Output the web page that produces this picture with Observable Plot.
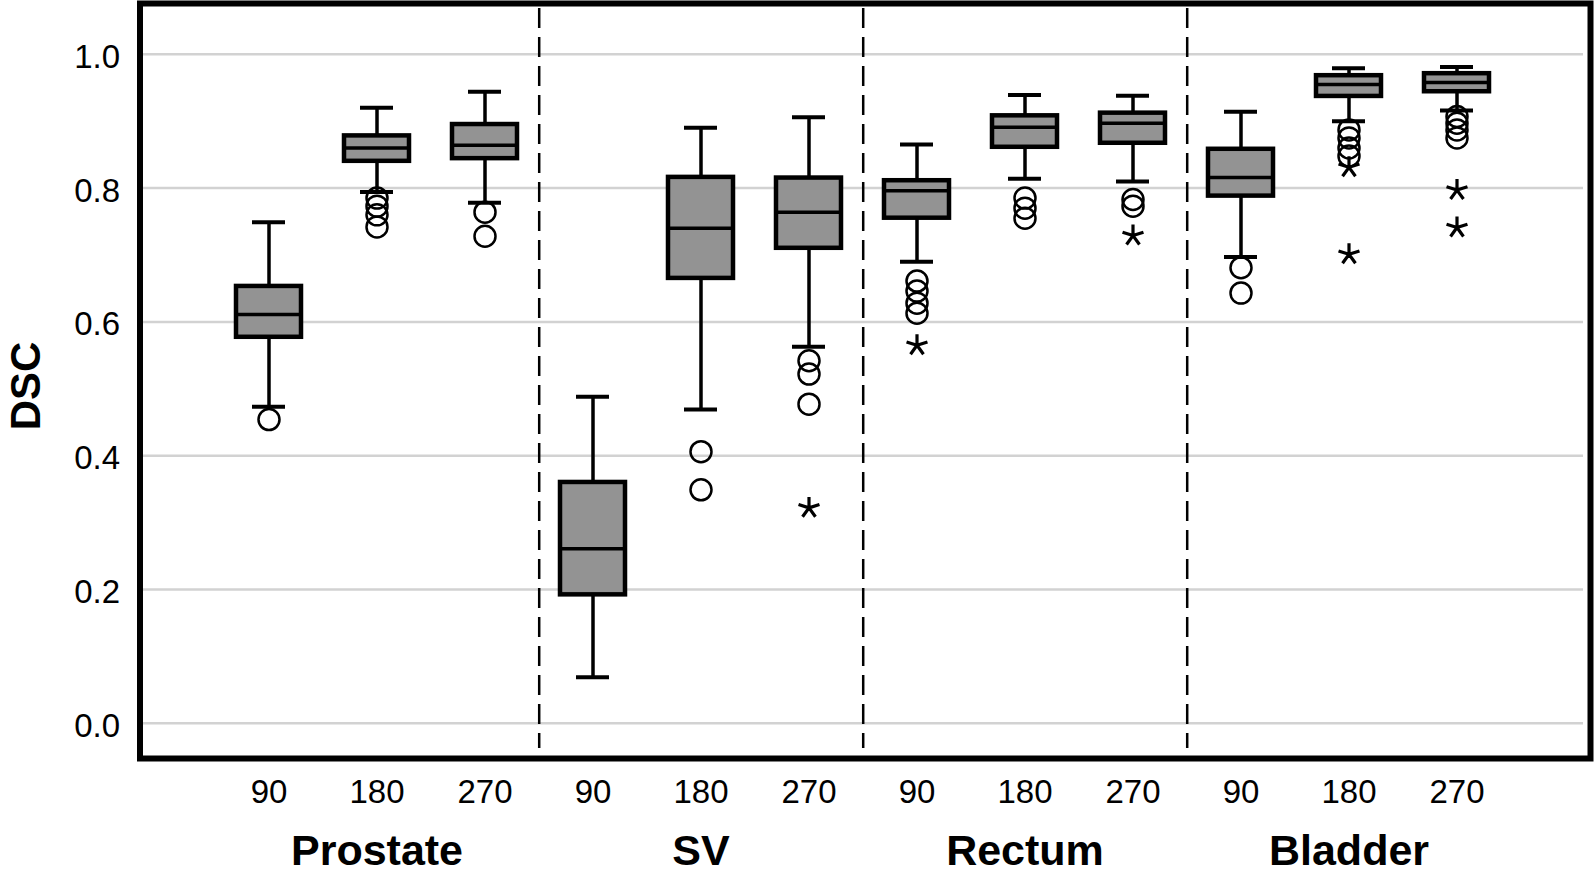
<!DOCTYPE html>
<html>
<head>
<meta charset="utf-8">
<script src="https://cdn.jsdelivr.net/npm/d3@7"></script>
<script src="https://cdn.jsdelivr.net/npm/@observablehq/plot@0.6"></script>
<style>
  html, body { margin: 0; padding: 0; background: #fff; }
  svg { display: block; }
</style>
</head>
<body>
<div id="chart"></div>
<script>
// ---- data ----
const organs = ["Prostate", "SV", "Rectum", "Bladder"];
const angles = ["90", "180", "270"];
const yTicks = [0, 0.2, 0.4, 0.6, 0.8, 1.0];

// order: Prostate 90/180/270, SV 90/180/270, Rectum 90/180/270, Bladder 90/180/270
const whiskerLow  = [0.473, 0.794, 0.778, 0.069, 0.469, 0.563, 0.690, 0.814, 0.810, 0.697, 0.900, 0.916];
const quartile1   = [0.577, 0.840, 0.844, 0.192, 0.665, 0.710, 0.755, 0.861, 0.867, 0.788, 0.937, 0.944];
const medians     = [0.611, 0.860, 0.864, 0.261, 0.740, 0.764, 0.796, 0.891, 0.897, 0.816, 0.955, 0.958];
const quartile3   = [0.653, 0.878, 0.895, 0.360, 0.816, 0.815, 0.811, 0.908, 0.912, 0.858, 0.968, 0.971];
const whiskerHigh = [0.749, 0.920, 0.944, 0.488, 0.890, 0.906, 0.865, 0.939, 0.938, 0.914, 0.979, 0.981];

// outliers (circles): [organ, angle, value]
const circleOutliers = [
  ["Prostate", "90", 0.454],
  ["Prostate", "180", 0.785], ["Prostate", "180", 0.773], ["Prostate", "180", 0.760], ["Prostate", "180", 0.742],
  ["Prostate", "270", 0.764], ["Prostate", "270", 0.728],
  ["SV", "180", 0.406], ["SV", "180", 0.349],
  ["SV", "270", 0.542], ["SV", "270", 0.522], ["SV", "270", 0.477],
  ["Rectum", "90", 0.661], ["Rectum", "90", 0.646], ["Rectum", "90", 0.628], ["Rectum", "90", 0.613],
  ["Rectum", "180", 0.785], ["Rectum", "180", 0.770], ["Rectum", "180", 0.755],
  ["Rectum", "270", 0.783], ["Rectum", "270", 0.773],
  ["Bladder", "90", 0.681], ["Bladder", "90", 0.643],
  ["Bladder", "180", 0.887], ["Bladder", "180", 0.875], ["Bladder", "180", 0.860], ["Bladder", "180", 0.848],
  ["Bladder", "270", 0.907], ["Bladder", "270", 0.897], ["Bladder", "270", 0.887], ["Bladder", "270", 0.875]
];
// extreme outliers (asterisks)
const starOutliers = [
  ["SV", "270", 0.322],
  ["Rectum", "90", 0.565],
  ["Rectum", "270", 0.729],
  ["Bladder", "180", 0.831], ["Bladder", "180", 0.701],
  ["Bladder", "270", 0.797], ["Bladder", "270", 0.741]
];

// ---- build tables ----
const key = (o, a) => `${o}|${a}`;
const keys = organs.flatMap(o => angles.map(a => key(o, a)));
const boxes = keys.map((k, i) => ({
  key: k, lo: whiskerLow[i], q1: quartile1[i], med: medians[i], q3: quartile3[i], hi: whiskerHigh[i]
}));
const circles = circleOutliers.map(([o, a, v]) => ({key: key(o, a), v}));
const stars = starOutliers.map(([o, a, v]) => ({key: key(o, a), v}));
const separators = organs.slice(0, -1).map(o => key(o, "270"));
const groupTicks = organs.map(o => key(o, "180"));

// five-armed asterisk symbol
const asterisk5 = {
  draw(ctx, size) {
    const r = Math.sqrt(size / Math.PI);
    for (let k = 0; k < 5; k++) {
      const a = -Math.PI / 2 + k * 2 * Math.PI / 5;
      ctx.moveTo(0, 0);
      ctx.lineTo(r * Math.cos(a), r * Math.sin(a));
    }
  }
};

const font = "'Liberation Sans', Arial, Helvetica, sans-serif";

const chart = Plot.plot({
  width: 1594,
  height: 873,
  marginLeft: 139.5,
  marginRight: 4,
  marginTop: 3,
  marginBottom: 115,
  style: {fontFamily: font, background: "#fff", color: "#000"},
  x: {type: "band", domain: keys, paddingInner: 0.4, paddingOuter: 0.89, align: 0.49},
  y: {domain: [-0.0526, 1.0759]},
  marks: [
    Plot.gridY(yTicks, {stroke: "#d2d2d2", strokeOpacity: 1, strokeWidth: 2.5, insetRight: 7}),
    Plot.ruleX(separators, {dx: 54.2, stroke: "#000", strokeWidth: 2.5, strokeDasharray: "20,9", insetTop: 5, insetBottom: 10}),
    Plot.axisY(yTicks, {tickFormat: d3.format(".1f"), tickSize: 0, tickPadding: 20, fontSize: 33, dy: 3, label: null}),
    Plot.axisX(keys, {tickFormat: k => k.split("|")[1], tickSize: 0, tickPadding: 21, fontSize: 33, label: null}),
    Plot.axisX(groupTicks, {tickFormat: k => k.split("|")[0], tickSize: 0, tickPadding: 76, fontSize: 43, fontWeight: "bold", label: null}),
    Plot.text(["DSC"], {text: d => d, frameAnchor: "left", textAnchor: "middle", lineAnchor: "middle", rotate: -90, dx: -113, dy: 5, fontSize: 42, fontWeight: "bold", fill: "#000"}),
    // whiskers
    Plot.ruleX(boxes, {x: "key", y1: "lo", y2: "hi", stroke: "#000", strokeWidth: 3.5}),
    // boxes
    Plot.barY(boxes, {x: "key", y1: "q1", y2: "q3", fill: "#939393", stroke: "#000", strokeWidth: 4.5}),
    // medians
    Plot.tickY(boxes, {x: "key", y: "med", stroke: "#000", strokeWidth: 3.5}),
    // caps
    Plot.tickY(boxes, {x: "key", y: "lo", stroke: "#000", strokeWidth: 4, insetLeft: 16, insetRight: 16}),
    Plot.tickY(boxes, {x: "key", y: "hi", stroke: "#000", strokeWidth: 4, insetLeft: 16, insetRight: 16}),
    // outliers
    Plot.dot(circles, {x: "key", y: "v", r: 10.5, fill: "none", stroke: "#000", strokeWidth: 2.5}),
    Plot.dot(stars, {x: "key", y: "v", symbol: asterisk5, r: 11, fill: "none", stroke: "#000", strokeWidth: 3.2}),
    Plot.frame({stroke: "#000", strokeWidth: 6})
  ]
});
document.getElementById("chart").appendChild(chart);
</script>
</body>
</html>
